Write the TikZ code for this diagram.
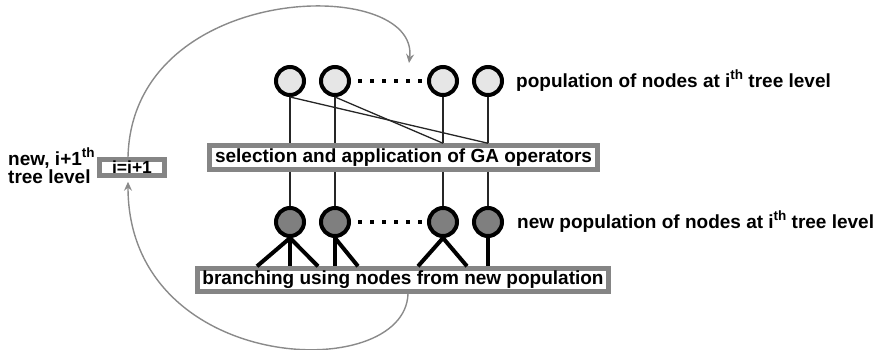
\documentclass[tikz,border=0pt]{standalone}
\usepackage{fontspec}
\setmainfont{Liberation Sans}
\usetikzlibrary{arrows.meta}

\definecolor{framegray}{HTML}{858585}
\definecolor{oldfill}{HTML}{E6E6E6}
\definecolor{newfill}{HTML}{7F7F7F}
\definecolor{loopgray}{HTML}{8A8A8A}

% raised "th" for the level labels
\newcommand{\thsup}{\raisebox{0.42em}{\fontsize{13.5}{13.5}\selectfont th}}

\begin{document}
\begin{tikzpicture}[
    x=1pt, y=-1pt,
    font=\fontsize{19}{21}\selectfont\bfseries,
    pop/.style={circle, draw=black, line width=4pt, minimum size=28pt, inner sep=0pt},
    oldpop/.style={pop, fill=oldfill},
    newpop/.style={pop, fill=newfill},
    opbox/.style={rectangle, draw=framegray, line width=4.5pt, fill=white,
                  inner sep=0pt, align=center},
    link/.style={line width=1.3pt, draw=black!85},
    limb/.style={line width=4pt, draw=black},
    dots/.style={line width=3.5pt, dash pattern=on 3.5pt off 8.5pt},
    loop/.style={draw=loopgray, line width=1.4pt,
                 -{Stealth[length=9pt, width=8pt, inset=3pt]}}
]
  \useasboundingbox (0,0) rectangle (878,349);

  % Operator boxes
  \node[opbox, minimum width=388pt, minimum height=24pt] (sel) at (403.5,157.5)
    {selection and application of GA operators};
  \node[opbox, minimum width=411pt, minimum height=23pt] (branching) at (403,280)
    {branching using nodes from new population};
  \node[opbox, minimum width=65pt, minimum height=16pt,
        font=\fontsize{17.5}{18}\selectfont\bfseries] (inc) at (132,167.5) {i=i+1};

  % Populations
  \foreach \x/\n in {290/1, 335/2, 443/3, 488/4} {
    \node[oldpop] (p\n) at (\x,81) {};
    \node[newpop] (q\n) at (\x,222) {};
  }
  \draw[dots] (358,81) -- (422,81);
  \draw[dots] (358,222) -- (422,222);

  % Labels
  \node[anchor=base west, inner sep=0pt] (oldlbl) at (516,87)
    {population of nodes at i\thsup\ tree level};
  \node[anchor=base west, inner sep=0pt] (newlbl) at (517,228)
    {new population of nodes at i\thsup\ tree level};
  \node[anchor=base west, inner sep=0pt] (lvl1) at (8,165) {new, i+1\thsup};
  \node[anchor=base west, inner sep=0pt] (lvl2) at (8,183) {tree level};

  % Links into and out of the GA step
  \foreach \n in {1,...,4} {
    \draw[link] (p\n) -- (p\n |- sel.north);
    \draw[link] (sel.south -| q\n) -- (q\n);
  }
  \draw[link] (p1.south) -- (p4 |- sel.north);
  \draw[link] (p2.south) -- (p3 |- sel.north);

  % Branches
  \foreach \n/\dx in {1/-33, 1/0, 1/28, 2/0, 2/23, 3/-25, 3/24, 4/0}
    \draw[limb] (q\n.south) -- ([xshift=\dx pt]q\n.south |- branching.north);

  % Loop back to the next level
  \coordinate (entry) at (409,63);
  \draw[loop] ([xshift=-4pt]inc.north) .. controls (132,-20) and (420,-25) .. (entry);
  \draw[loop, shorten >=4pt] ([xshift=5pt]branching.south)
    .. controls (405,385) and (128,375) .. ([xshift=-4pt]inc.south);
\end{tikzpicture}
\end{document}
